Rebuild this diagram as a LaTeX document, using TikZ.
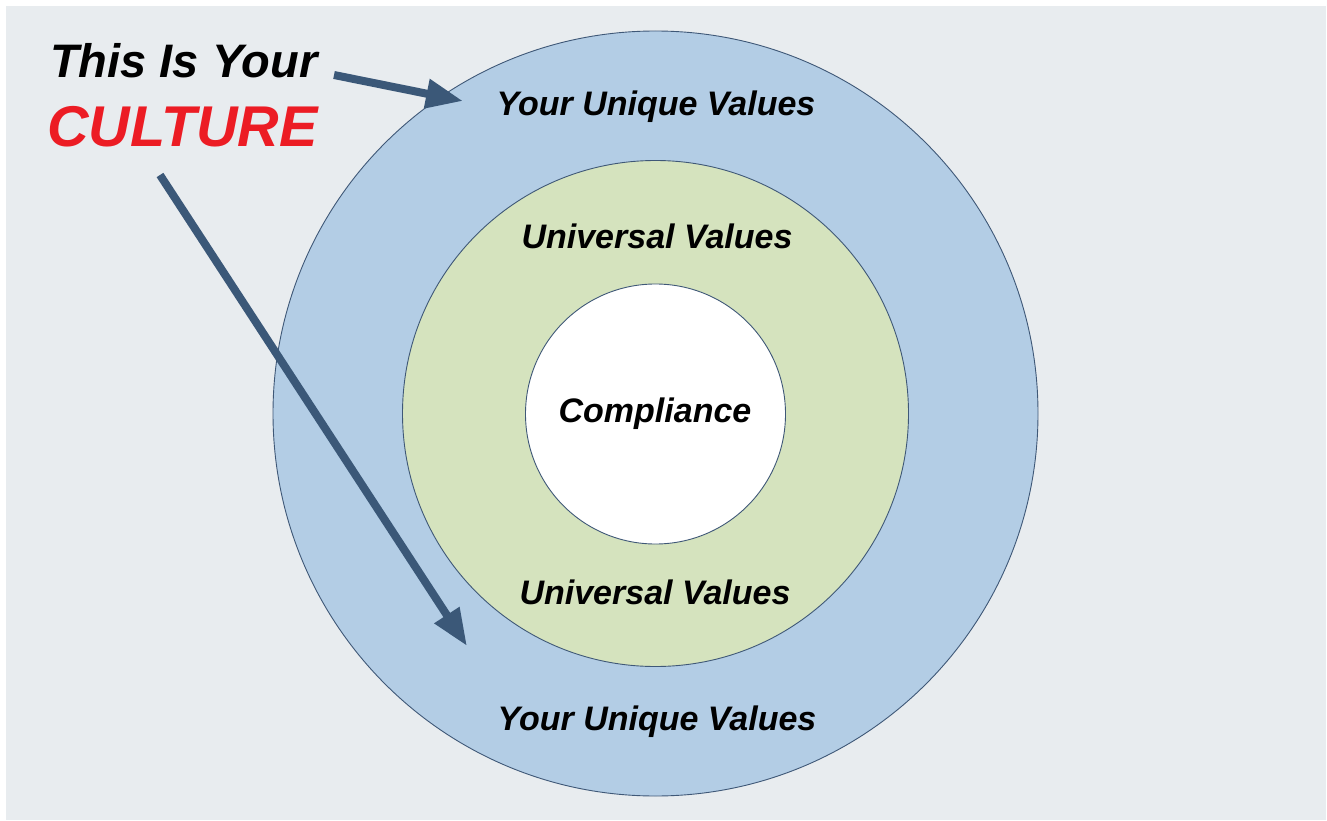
\documentclass[tikz,border=0pt]{standalone}
\usepackage{fontspec}
\setmainfont{Liberation Sans}
\usetikzlibrary{arrows.meta}
\definecolor{bgray}{HTML}{E8ECEF}
\definecolor{ringblue}{HTML}{B3CDE5}
\definecolor{ringgreen}{HTML}{D5E3BE}
\definecolor{edge}{HTML}{3F5877}
\definecolor{arrowblue}{HTML}{3B5878}
\definecolor{culturered}{HTML}{EC1C24}
\tikzset{
  ring/.style={circle, draw=edge, line width=0.9pt, inner sep=0pt},
  ringlabel/.style={font=\fontsize{34}{34}\selectfont\bfseries\itshape, anchor=base, inner sep=0pt},
  pointer/.style={arrowblue, line width=8pt, -{Triangle[length=37pt, width=28pt]}}
}
\begin{document}
\begin{tikzpicture}[x=1pt,y=-1pt]
\useasboundingbox (0,0) rectangle (1327,821);
\fill[bgray] (6,6) rectangle (1326,820);

% concentric rings
\node[ring, fill=ringblue, minimum size=765pt] (outer) at (655.5,413.5) {};
\node[ring, fill=ringgreen, minimum size=506pt] (middle) at (655.5,413.5) {};
\node[ring, fill=white, minimum size=260pt] (inner) at (655.5,414) {};

% ring labels
\node[ringlabel] (uniqueTop) at (656,116) {Your Unique Values};
\node[ringlabel] (universalTop) at (657,248) {Universal Values};
\node[ringlabel] (compliance) at (655,422) {Compliance};
\node[ringlabel] (universalBot) at (655,604) {Universal Values};
\node[ringlabel] (uniqueBot) at (657,730) {Your Unique Values};

% headline
\node[font=\fontsize{47}{47}\selectfont\bfseries\itshape, anchor=base west, inner sep=0pt] (this) at (50,78) {This Is Your};
\node[font=\fontsize{57.5}{57.5}\selectfont\bfseries\itshape, text=culturered, anchor=base west, inner sep=0pt] (culture) at (47,147) {CULTURE};

% pointers
\coordinate (p1start) at (334,75);
\coordinate (p1end) at (463,101);
\coordinate (p2start) at (160,175);
\coordinate (p2end) at (467,646);
\draw[pointer] (p1start) -- (p1end);
\draw[pointer] (p2start) -- (p2end);
\end{tikzpicture}
\end{document}
